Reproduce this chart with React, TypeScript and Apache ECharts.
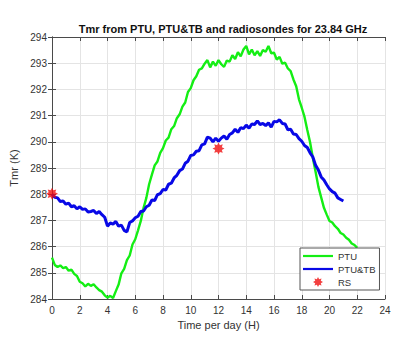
import React, { useEffect, useRef } from "react";
import * as echarts from "echarts";

const TITLE = "Tmr from PTU, PTU&TB and radiosondes for 23.84 GHz";
const X_NAME = "Time per day (H)";
const Y_NAME = "Tmr (K)";
const SAMPLE_STEP_H = 0.2;

// PTU retrieval, sampled every 0.2 h from 0 h to 22 h
const ptu = [
  285.58, 285.30, 285.22, 285.28, 285.18, 285.22, 285.08, 285.12, 284.96, 284.88,
  284.66, 284.60, 284.48, 284.58, 284.50, 284.56, 284.44, 284.34, 284.28, 284.14,
  284.05, 284.12, 284.04, 284.30, 284.55, 284.98, 285.15, 285.48, 285.66, 286.08,
  286.28, 286.62, 286.98, 287.48, 287.86, 288.38, 288.75, 289.10, 289.25, 289.58,
  289.76, 290.05, 290.16, 290.48, 290.60, 290.90, 291.05, 291.34, 291.50, 291.90,
  292.05, 292.35, 292.50, 292.75, 292.80, 292.98, 293.12, 292.84, 293.06, 292.90,
  293.12, 292.96, 292.86, 293.10, 293.06, 293.30, 293.16, 293.42, 293.26, 293.52,
  293.66, 293.34, 293.52, 293.30, 293.46, 293.28, 293.50, 293.44, 293.66, 293.38,
  293.40, 293.14, 293.24, 292.98, 293.02, 292.80, 292.70, 292.38, 292.12, 291.62,
  291.30, 290.95, 290.45, 289.98, 289.38, 288.85, 288.28, 287.88, 287.48, 287.22,
  286.98, 286.92, 286.78, 286.68, 286.52, 286.46, 286.34, 286.26, 286.12, 286.06,
  285.95,
];

// PTU&TB retrieval, sampled every 0.2 h from 0 h to 21 h
const ptuTb = [
  288.00, 287.88, 287.86, 287.72, 287.74, 287.62, 287.66, 287.52, 287.56, 287.44,
  287.52, 287.42, 287.44, 287.32, 287.34, 287.38, 287.26, 287.34, 287.22, 287.12,
  286.78, 286.90, 286.86, 286.96, 286.78, 286.82, 286.62, 286.56, 286.92, 286.98,
  287.10, 287.16, 287.34, 287.36, 287.52, 287.58, 287.78, 287.76, 287.98, 288.02,
  288.18, 288.16, 288.38, 288.42, 288.62, 288.72, 288.90, 288.96, 289.18, 289.26,
  289.48, 289.50, 289.64, 289.66, 289.88, 289.92, 290.18, 290.14, 290.00, 290.14,
  290.02, 290.14, 290.22, 290.10, 290.28, 290.34, 290.48, 290.36, 290.54, 290.50,
  290.64, 290.52, 290.68, 290.66, 290.80, 290.66, 290.70, 290.62, 290.72, 290.56,
  290.78, 290.76, 290.84, 290.70, 290.68, 290.46, 290.48, 290.30, 290.28, 290.12,
  290.02, 289.86, 289.78, 289.58, 289.42, 289.10, 288.92, 288.66, 288.54, 288.36,
  288.20, 288.10, 288.04, 287.86, 287.80, 287.74,
];

// Radiosonde launches
const rsHours = [0, 12];
const rsTmr = [288.02, 289.74];

const X_MIN = 0, X_MAX = 24, X_STEP = 2;
const Y_MIN = 284, Y_MAX = 294, Y_STEP = 1;

const STAR =
  "path://M20,10L15.54,12.30L17.07,17.07L12.30,15.54L10,20L7.70,15.54L2.93,17.07L4.46,12.30L0,10L4.46,7.70L2.93,2.93L7.70,4.46L10,0L12.30,4.46L17.07,2.93L15.54,7.70Z";
const LINE_ICON = "path://M0,0L30,0L30,2.2L0,2.2Z";

const FONT = "Liberation Sans, Arial, Helvetica, sans-serif";
const AXIS_COLOR = "#4a4a4a";
const TEXT_COLOR = "#333333";
const GREEN = "#14ee14";
const BLUE = "#0808e6";
const RED = "#f01010";

export default function App() {
  const ref = useRef<HTMLDivElement>(null);

  useEffect(() => {
    if (!ref.current) return;
    const chart = echarts.init(ref.current, undefined, { renderer: "svg" });

    const ptuData = ptu.map((v, i) => [i * SAMPLE_STEP_H, v]);
    const ptuTbData = ptuTb.map((v, i) => [i * SAMPLE_STEP_H, v]);
    const rsData = rsHours.map((h, i) => [h, rsTmr[i]]);

    const axisCommon = {
      axisLine: { show: true, lineStyle: { color: AXIS_COLOR, width: 1 } },
      axisTick: { show: true, inside: true, length: 4, lineStyle: { color: AXIS_COLOR } },
    };

    chart.setOption({
      animation: false,
      backgroundColor: "#ffffff",
      textStyle: { fontFamily: FONT },
      title: {
        text: TITLE,
        left: 218,
        textAlign: "center",
        top: 18,
        textStyle: { fontSize: 11, fontWeight: "bold", color: "#111", fontFamily: FONT },
      },
      grid: { left: 52, right: 15, top: 37, bottom: 41, containLabel: false },
      legend: {
        orient: "vertical",
        left: 300,
        top: 248,
        padding: [3, 4, 3, 3],
        itemWidth: 30,
        itemHeight: 10,
        itemGap: 3,
        symbolKeepAspect: true,
        backgroundColor: "#ffffff",
        borderColor: "#555",
        borderWidth: 1,
        borderRadius: 0,
        textStyle: { fontSize: 9.5, lineHeight: 10, color: TEXT_COLOR, fontFamily: FONT },
        data: [
          { name: "PTU", icon: LINE_ICON },
          { name: "PTU&TB", icon: LINE_ICON },
          { name: "RS", icon: STAR },
        ],
      },
      xAxis: [
        {
          type: "value",
          min: X_MIN,
          max: X_MAX,
          interval: X_STEP,
          name: X_NAME,
          nameLocation: "middle",
          nameGap: 20,
          nameTextStyle: { fontSize: 11, color: TEXT_COLOR, fontFamily: FONT },
          ...axisCommon,
          axisLabel: { fontSize: 10, color: TEXT_COLOR, margin: 6, fontFamily: FONT },
          splitLine: { show: true, lineStyle: { color: "#e4e4e4", width: 1 } },
        },
        {
          type: "value",
          position: "top",
          min: X_MIN,
          max: X_MAX,
          interval: X_STEP,
          ...axisCommon,
          axisLabel: { show: false },
          splitLine: { show: false },
        },
      ],
      yAxis: [
        {
          type: "value",
          min: Y_MIN,
          max: Y_MAX,
          interval: Y_STEP,
          name: Y_NAME,
          nameLocation: "middle",
          nameGap: 19,
          nameTextStyle: { fontSize: 11, color: TEXT_COLOR, fontFamily: FONT },
          ...axisCommon,
          axisLabel: { fontSize: 10, color: TEXT_COLOR, margin: 5, fontFamily: FONT },
          splitLine: { show: true, lineStyle: { color: "#e4e4e4", width: 1 } },
        },
        {
          type: "value",
          position: "right",
          min: Y_MIN,
          max: Y_MAX,
          interval: Y_STEP,
          ...axisCommon,
          axisLabel: { show: false },
          splitLine: { show: false },
        },
      ],
      series: [
        {
          name: "PTU",
          type: "line",
          data: ptuData,
          showSymbol: false,
          symbol: "none",
          color: GREEN,
          lineStyle: { color: GREEN, width: 2.4 },
          z: 2,
        },
        {
          name: "PTU&TB",
          type: "line",
          data: ptuTbData,
          showSymbol: false,
          symbol: "none",
          color: BLUE,
          lineStyle: { color: BLUE, width: 3 },
          z: 3,
        },
        {
          name: "RS",
          type: "scatter",
          data: rsData,
          symbol: STAR,
          symbolSize: 12,
          color: RED,
          itemStyle: { color: RED },
          z: 4,
        },
      ],
    });

    return () => chart.dispose();
  }, []);

  return (
    <div
      ref={ref}
      style={{ position: "fixed", left: 0, top: 0, width: 400, height: 340, background: "#fff" }}
    />
  );
}
